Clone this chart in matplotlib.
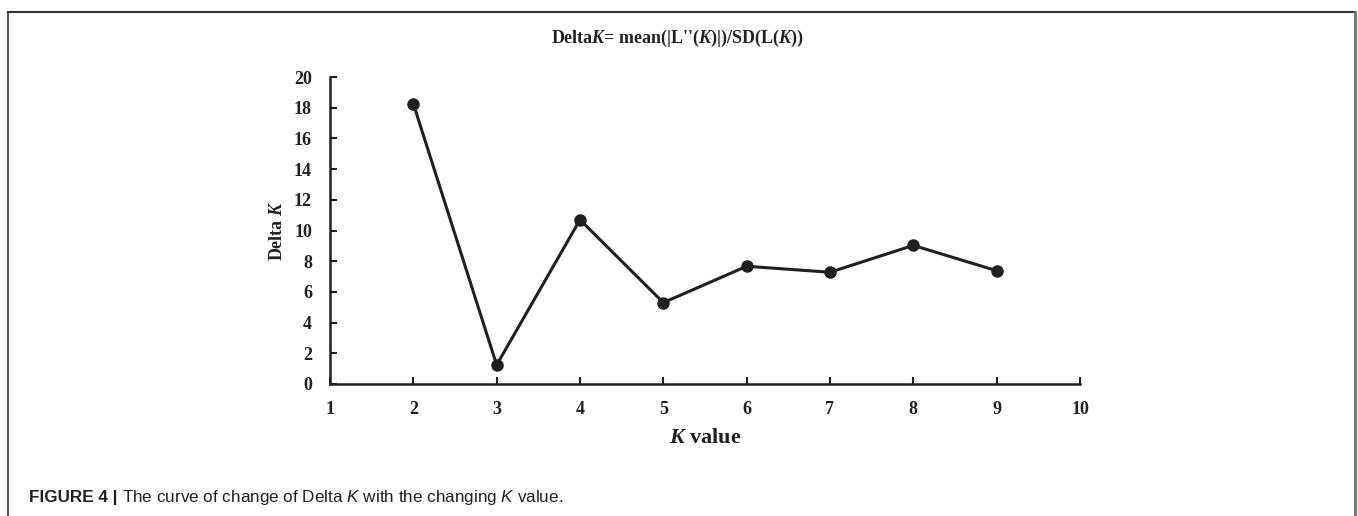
import matplotlib
matplotlib.use("Agg")
import matplotlib.pyplot as plt
from matplotlib.lines import Line2D

plt.rcParams["mathtext.fontset"] = "custom"
plt.rcParams["mathtext.it"] = "Liberation Sans:italic"
plt.rcParams["mathtext.rm"] = "Liberation Sans"
plt.rcParams["mathtext.bf"] = "Liberation Serif:bold"
plt.rcParams["mathtext.bfit"] = "Liberation Serif:italic:bold"

k_values = [2, 3, 4, 5, 6, 7, 8, 9]
delta_k = [18.26, 1.24, 10.70, 5.30, 7.67, 7.28, 9.03, 7.38]
x_ticks = [1, 2, 3, 4, 5, 6, 7, 8, 9, 10]
y_ticks = [0, 2, 4, 6, 8, 10, 12, 14, 16, 18, 20]

W, H = 1358, 516
fig = plt.figure(figsize=(W / 100, H / 100), dpi=100)
fig.patch.set_facecolor("white")

serif = "Liberation Serif"
ink = "#231f20"

ax = fig.add_axes([330 / W, 1 - 384 / H, 750 / W, 307 / H])
ax.plot(k_values, delta_k, color=ink, lw=2.2, marker="o", ms=8, mfc=ink, mec=ink, clip_on=False)
ax.set_xlim(1, 10)
ax.set_ylim(0, 20)
ax.set_xticks(x_ticks)
ax.set_yticks(y_ticks)
for s in ["top", "right"]:
    ax.spines[s].set_visible(False)
for s in ["left", "bottom"]:
    ax.spines[s].set_linewidth(1.8)
    ax.spines[s].set_color(ink)
ax.tick_params(direction="in", length=5, width=1.5, color=ink, labelcolor=ink)
ax.tick_params(axis="x", pad=12.5)
ax.tick_params(axis="y", pad=13)
for lab in ax.get_xticklabels() + ax.get_yticklabels():
    lab.set_fontfamily(serif)
    lab.set_fontweight("bold")
    lab.set_fontsize(13)

fig.text(705 / W, 1 - 438 / H, r"$\mathbfit{K}$ value", ha="center", va="center",
         fontfamily=serif, fontweight="bold", fontsize=16, color=ink)
fig.text(277 / W, 1 - 231 / H, r"Delta $\mathbfit{K}$", ha="center", va="center", rotation=90,
         fontfamily=serif, fontweight="bold", fontsize=13, color=ink)
fig.text(677 / W, 1 - 38 / H, r"Delta$\mathbfit{K}$= mean(|L''($\mathbfit{K}$)|)/SD(L($\mathbfit{K}$))",
         ha="center", va="center", fontfamily=serif, fontweight="bold", fontsize=13, color=ink)

# caption
cap1 = fig.text(29 / W, 1 - 502 / H, "FIGURE 4 | ", ha="left", va="baseline",
                fontfamily="Liberation Sans", fontweight="bold", fontsize=12.3, color=ink)
fig.canvas.draw()
bb = cap1.get_window_extent()
fig.text(bb.x1 / W, 1 - 502 / H, "The curve of change of Delta $K$ with the changing $K$ value.",
         ha="left", va="baseline", fontfamily="Liberation Sans", fontsize=12.3, color=ink)

# frame
fig.add_artist(Line2D([8 / W, 1355 / W], [1 - 11.5 / H, 1 - 11.5 / H], transform=fig.transFigure,
                      color="#333333", lw=1.5))
fig.add_artist(Line2D([8 / W, 8 / W], [1 - 11.5 / H, 0], transform=fig.transFigure,
                      color="#333333", lw=1.2))
fig.add_artist(Line2D([1355 / W, 1355 / W], [1 - 11.5 / H, 0], transform=fig.transFigure,
                      color="#777777", lw=2.2))

fig.savefig("out.png", dpi=100)
